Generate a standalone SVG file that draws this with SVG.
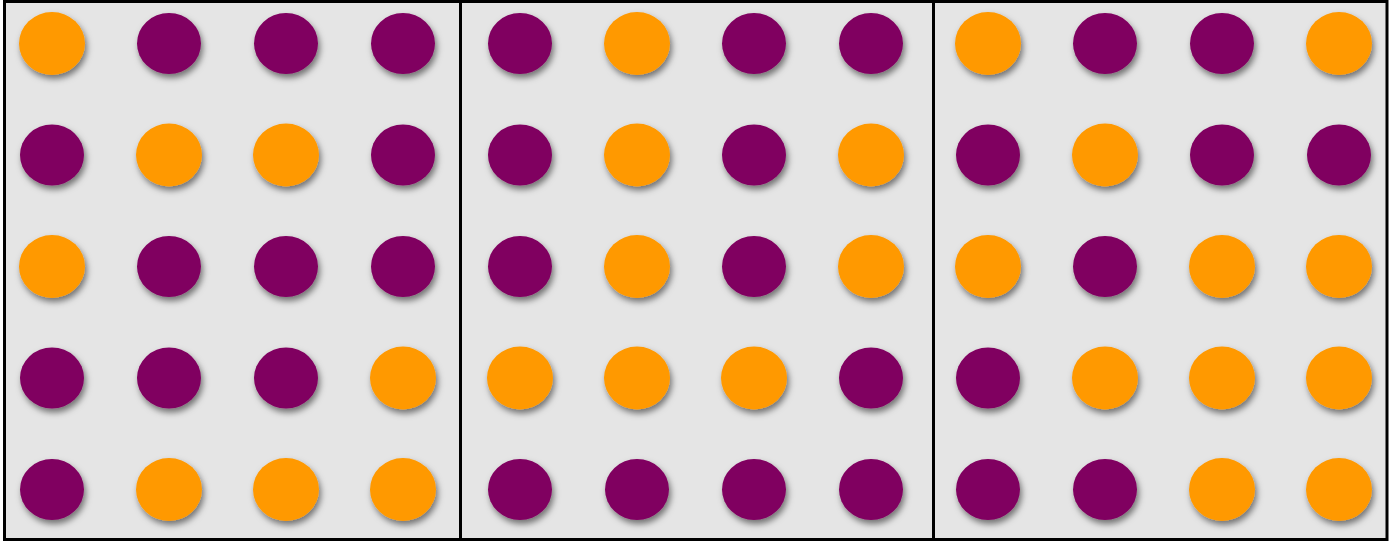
<svg xmlns="http://www.w3.org/2000/svg" width="1389" height="542" viewBox="0 0 1389 542">
<defs>
<style>
.o{fill:#FF9900;filter:url(#sh)}
.p{fill:#800060;filter:url(#sh)}
.bg{fill:#E5E5E5}
.ln{stroke:#000;stroke-width:3;fill:none}
</style>
<filter id="sh" x="-30%" y="-30%" width="170%" height="170%">
<feDropShadow dx="2" dy="4" stdDeviation="3" flood-color="#000" flood-opacity="0.5"/>
</filter>
<ellipse id="O" rx="33" ry="31.5" class="o"/>
<ellipse id="P" rx="32" ry="30.5" class="p"/>
</defs>
<rect x="0" y="0" width="1389" height="542" fill="#fff"/>
<rect class="bg" x="4.5" y="1.5" width="1382.5" height="538"/>
<g id="panel1">
<use href="#O" x="52" y="43.5"/><use href="#P" x="169" y="43.5"/><use href="#P" x="286" y="43.5"/><use href="#P" x="403" y="43.5"/>
<use href="#P" x="52" y="155"/><use href="#O" x="169" y="155"/><use href="#O" x="286" y="155"/><use href="#P" x="403" y="155"/>
<use href="#O" x="52" y="266.5"/><use href="#P" x="169" y="266.5"/><use href="#P" x="286" y="266.5"/><use href="#P" x="403" y="266.5"/>
<use href="#P" x="52" y="378"/><use href="#P" x="169" y="378"/><use href="#P" x="286" y="378"/><use href="#O" x="403" y="378"/>
<use href="#P" x="52" y="489.5"/><use href="#O" x="169" y="489.5"/><use href="#O" x="286" y="489.5"/><use href="#O" x="403" y="489.5"/>
</g>
<g id="panel2">
<use href="#P" x="520" y="43.5"/><use href="#O" x="637" y="43.5"/><use href="#P" x="754" y="43.5"/><use href="#P" x="871" y="43.5"/>
<use href="#P" x="520" y="155"/><use href="#O" x="637" y="155"/><use href="#P" x="754" y="155"/><use href="#O" x="871" y="155"/>
<use href="#P" x="520" y="266.5"/><use href="#O" x="637" y="266.5"/><use href="#P" x="754" y="266.5"/><use href="#O" x="871" y="266.5"/>
<use href="#O" x="520" y="378"/><use href="#O" x="637" y="378"/><use href="#O" x="754" y="378"/><use href="#P" x="871" y="378"/>
<use href="#P" x="520" y="489.5"/><use href="#P" x="637" y="489.5"/><use href="#P" x="754" y="489.5"/><use href="#P" x="871" y="489.5"/>
</g>
<g id="panel3">
<use href="#O" x="988" y="43.5"/><use href="#P" x="1105" y="43.5"/><use href="#P" x="1222" y="43.5"/><use href="#O" x="1339" y="43.5"/>
<use href="#P" x="988" y="155"/><use href="#O" x="1105" y="155"/><use href="#P" x="1222" y="155"/><use href="#P" x="1339" y="155"/>
<use href="#O" x="988" y="266.5"/><use href="#P" x="1105" y="266.5"/><use href="#O" x="1222" y="266.5"/><use href="#O" x="1339" y="266.5"/>
<use href="#P" x="988" y="378"/><use href="#O" x="1105" y="378"/><use href="#O" x="1222" y="378"/><use href="#O" x="1339" y="378"/>
<use href="#P" x="988" y="489.5"/><use href="#P" x="1105" y="489.5"/><use href="#O" x="1222" y="489.5"/><use href="#O" x="1339" y="489.5"/>
</g>
<g id="frame">
<rect class="ln" x="4.5" y="1.5" width="1382.5" height="538"/>
<line class="ln" x1="460.5" y1="1.5" x2="460.5" y2="539.5"/>
<line class="ln" x1="933.5" y1="1.5" x2="933.5" y2="539.5"/>
</g>
</svg>
